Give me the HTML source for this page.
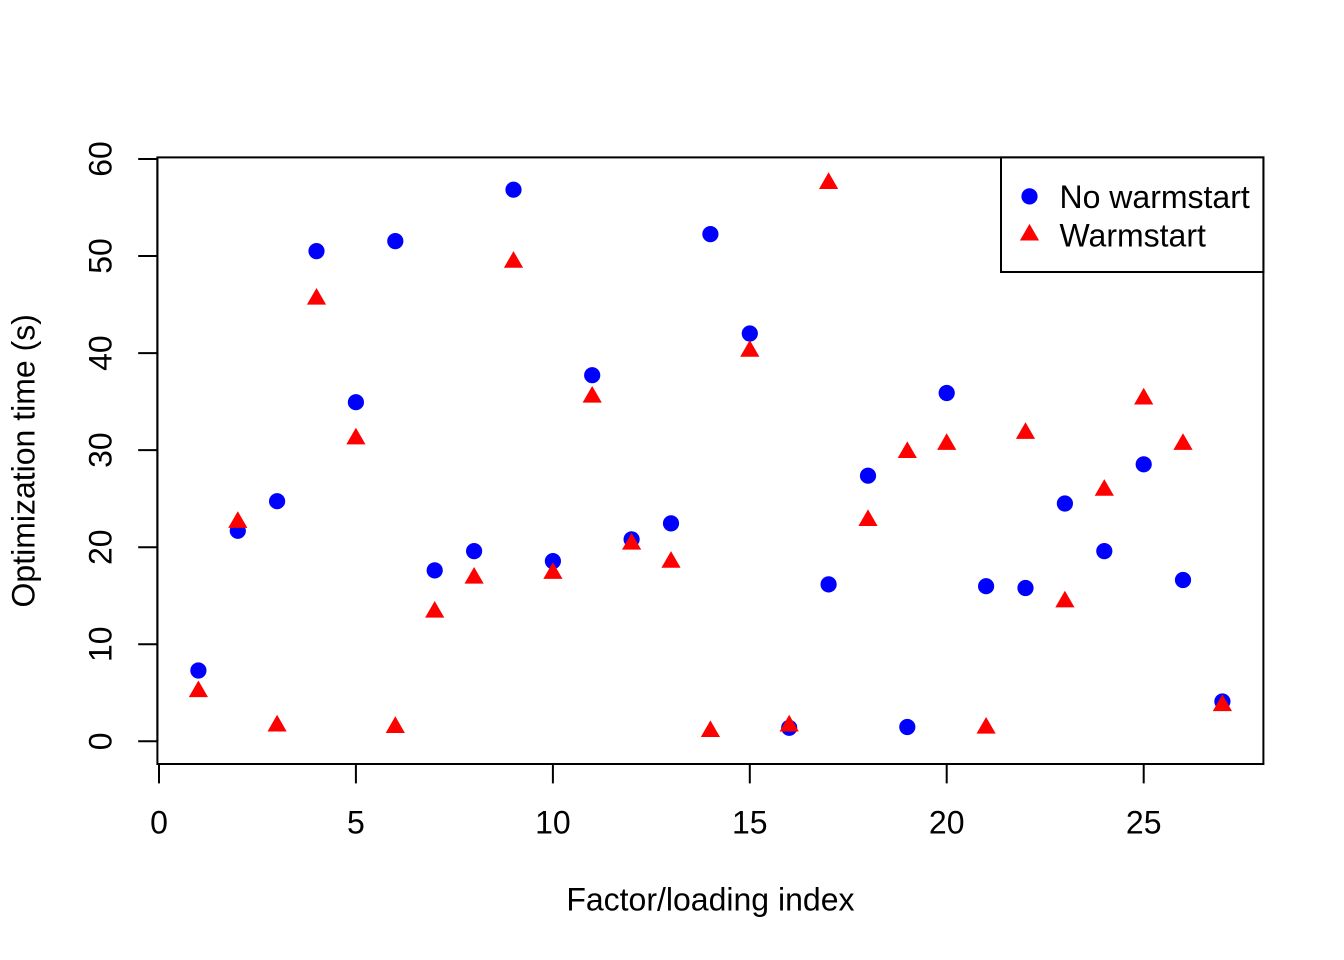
<!DOCTYPE html>
<html>
<head>
<meta charset="utf-8">
<style>
  html, body { margin: 0; padding: 0; background: #fff; }
  svg { display: block; }
  text { font-family: "Liberation Sans", Arial, sans-serif; font-size: 32px; fill: #000; }
</style>
</head>
<body>
<svg width="1344" height="960" viewBox="0 0 1344 960" xmlns="http://www.w3.org/2000/svg">
  <rect x="0" y="0" width="1344" height="960" fill="#fff"/>

  <!-- plot box -->
  <rect x="157.4" y="157.4" width="1106" height="606.6" fill="none" stroke="#000" stroke-width="2"/>

  <!-- x axis -->
  <g stroke="#000" stroke-width="2">
    <line x1="159" y1="764" x2="1143.7" y2="764"/>
    <line x1="159" y1="764" x2="159" y2="783.4"/>
    <line x1="355.9" y1="764" x2="355.9" y2="783.4"/>
    <line x1="552.9" y1="764" x2="552.9" y2="783.4"/>
    <line x1="749.8" y1="764" x2="749.8" y2="783.4"/>
    <line x1="946.7" y1="764" x2="946.7" y2="783.4"/>
    <line x1="1143.7" y1="764" x2="1143.7" y2="783.4"/>
  </g>
  <g text-anchor="middle">
    <text x="159" y="833.5">0</text>
    <text x="355.9" y="833.5">5</text>
    <text x="552.9" y="833.5">10</text>
    <text x="749.8" y="833.5">15</text>
    <text x="946.7" y="833.5">20</text>
    <text x="1143.7" y="833.5">25</text>
  </g>

  <!-- y axis -->
  <g stroke="#000" stroke-width="2">
    <line x1="157.4" y1="741.3" x2="157.4" y2="159"/>
    <line x1="157.4" y1="741.3" x2="138.2" y2="741.3"/>
    <line x1="157.4" y1="644.2" x2="138.2" y2="644.2"/>
    <line x1="157.4" y1="547.2" x2="138.2" y2="547.2"/>
    <line x1="157.4" y1="450.1" x2="138.2" y2="450.1"/>
    <line x1="157.4" y1="353.1" x2="138.2" y2="353.1"/>
    <line x1="157.4" y1="256.0" x2="138.2" y2="256.0"/>
    <line x1="157.4" y1="159.0" x2="138.2" y2="159.0"/>
  </g>
  <g text-anchor="middle">
    <text transform="translate(111.3,741.3) rotate(-90)">0</text>
    <text transform="translate(111.3,644.2) rotate(-90)">10</text>
    <text transform="translate(111.3,547.2) rotate(-90)">20</text>
    <text transform="translate(111.3,450.1) rotate(-90)">30</text>
    <text transform="translate(111.3,353.1) rotate(-90)">40</text>
    <text transform="translate(111.3,256.0) rotate(-90)">50</text>
    <text transform="translate(111.3,159.0) rotate(-90)">60</text>
  </g>

  <!-- axis titles -->
  <text x="710.4" y="910.5" text-anchor="middle">Factor/loading index</text>
  <text transform="translate(34.5,460.8) rotate(-90)" text-anchor="middle">Optimization time (s)</text>

  <!-- No warmstart (blue circles) -->
  <g fill="#0000ff">
    <circle cx="198.4" cy="670.5" r="8.1"/>
    <circle cx="237.8" cy="530.8" r="8.1"/>
    <circle cx="277.1" cy="501.2" r="8.1"/>
    <circle cx="316.5" cy="251.1" r="8.1"/>
    <circle cx="355.9" cy="402.2" r="8.1"/>
    <circle cx="395.3" cy="241.1" r="8.1"/>
    <circle cx="434.7" cy="570.4" r="8.1"/>
    <circle cx="474.1" cy="551.1" r="8.1"/>
    <circle cx="513.5" cy="189.7" r="8.1"/>
    <circle cx="552.9" cy="561.1" r="8.1"/>
    <circle cx="592.2" cy="375.2" r="8.1"/>
    <circle cx="631.6" cy="539.3" r="8.1"/>
    <circle cx="671.0" cy="523.4" r="8.1"/>
    <circle cx="710.4" cy="234.1" r="8.1"/>
    <circle cx="749.8" cy="333.5" r="8.1"/>
    <circle cx="789.2" cy="727.8" r="8.1"/>
    <circle cx="828.6" cy="584.4" r="8.1"/>
    <circle cx="868.0" cy="475.7" r="8.1"/>
    <circle cx="907.3" cy="727.0" r="8.1"/>
    <circle cx="946.7" cy="393.0" r="8.1"/>
    <circle cx="986.1" cy="586.2" r="8.1"/>
    <circle cx="1025.5" cy="588.0" r="8.1"/>
    <circle cx="1064.9" cy="503.5" r="8.1"/>
    <circle cx="1104.3" cy="551.1" r="8.1"/>
    <circle cx="1143.7" cy="464.3" r="8.1"/>
    <circle cx="1183.0" cy="580.0" r="8.1"/>
    <circle cx="1222.4" cy="701.5" r="8.1"/>
  </g>

  <!-- Warmstart (red triangles) -->
  <defs>
    <polygon id="tri" points="0,-11.1 9.6,5.55 -9.6,5.55" fill="#ff0000"/>
  </defs>
  <g>
    <use href="#tri" x="198.4" y="691.6"/>
    <use href="#tri" x="237.8" y="522.3"/>
    <use href="#tri" x="277.1" y="725.9"/>
    <use href="#tri" x="316.5" y="299.1"/>
    <use href="#tri" x="355.9" y="438.8"/>
    <use href="#tri" x="395.3" y="727.4"/>
    <use href="#tri" x="434.7" y="612.1"/>
    <use href="#tri" x="474.1" y="578.1"/>
    <use href="#tri" x="513.5" y="262.2"/>
    <use href="#tri" x="552.9" y="573.3"/>
    <use href="#tri" x="592.2" y="397.1"/>
    <use href="#tri" x="631.6" y="544.1"/>
    <use href="#tri" x="671.0" y="562.2"/>
    <use href="#tri" x="710.4" y="731.5"/>
    <use href="#tri" x="749.8" y="351.2"/>
    <use href="#tri" x="789.2" y="725.9"/>
    <use href="#tri" x="828.6" y="183.4"/>
    <use href="#tri" x="868.0" y="520.5"/>
    <use href="#tri" x="907.3" y="452.5"/>
    <use href="#tri" x="946.7" y="444.3"/>
    <use href="#tri" x="986.1" y="728.1"/>
    <use href="#tri" x="1025.5" y="433.3"/>
    <use href="#tri" x="1064.9" y="601.8"/>
    <use href="#tri" x="1104.3" y="490.2"/>
    <use href="#tri" x="1143.7" y="398.9"/>
    <use href="#tri" x="1183.0" y="444.3"/>
    <use href="#tri" x="1222.4" y="705.6"/>
  </g>

  <!-- legend -->
  <rect x="1001" y="157.4" width="262.4" height="114.6" fill="#fff" stroke="#000" stroke-width="2"/>
  <circle cx="1029.5" cy="196.4" r="8.1" fill="#0000ff"/>
  <use href="#tri" x="1029.5" y="235"/>
  <text x="1059.5" y="208">No warmstart</text>
  <text x="1059.5" y="246.5">Warmstart</text>
</svg>
</body>
</html>
